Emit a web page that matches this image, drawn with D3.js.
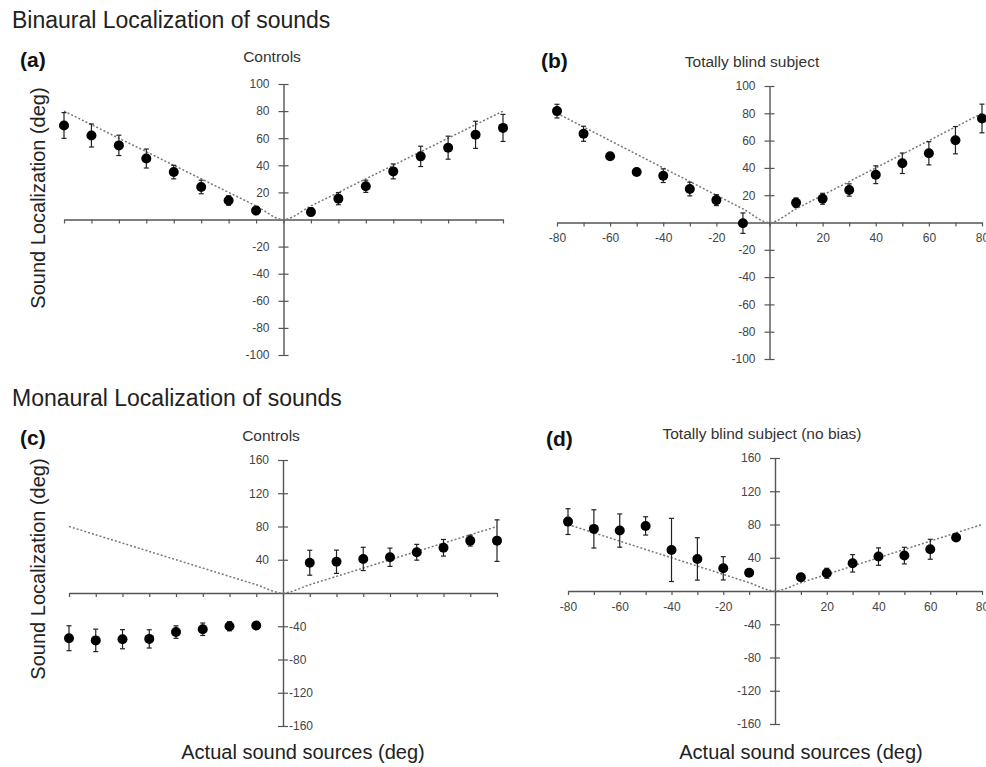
<!DOCTYPE html>
<html>
<head>
<meta charset="utf-8">
<script src="https://cdn.jsdelivr.net/npm/d3@7"></script>
<style>
  body { margin: 0; background: #fff; }
  svg { display: block; font-family: "Liberation Sans", Arial, sans-serif; }
  .tick text { fill: #444; font-size: 12px; }
  .axis path, .axis line { stroke: #555; }
</style>
</head>
<body>
<div id="chart"></div>
<script>
// Data
const anglesFull = [-80, -70, -60, -50, -40, -30, -20, -10, 10, 20, 30, 40, 50, 60, 70, 80];
const anglesMonBlind = [-80, -70, -60, -50, -40, -30, -20, -10, 10, 20, 30, 40, 50, 60, 70];

const binCtrlMean = [69.4, 62, 54.7, 45, 35, 24, 14, 6.6, 5.6, 15.4, 24.5, 35.5, 46.6, 53, 62.5, 67.6];
const binCtrlErr = [9.5, 8.5, 7.5, 7, 5, 5, 3.5, 3, 3, 4.5, 4.5, 5.5, 7.5, 8.5, 10, 10];

const binBlindMean = [81.6, 65, 48.5, 37, 34.3, 24.5, 16.4, -0.5, 14.5, 17.4, 23.8, 35, 43.4, 50.7, 60.3, 76.2];
const binBlindErr = [5, 5.5, 1.5, 1.5, 5, 5, 4, 7.5, 3.5, 4, 4.5, 6.5, 7.5, 8.5, 10, 10.5];

const monCtrlMean = [-54.4, -57, -55.6, -55.2, -47, -43.6, -40, -39, 36.4, 37.6, 41, 43, 49, 54.4, 63, 63];
const monCtrlErr = [15, 13.5, 11.5, 11, 7.5, 7.5, 5.5, 4.5, 15, 14, 14, 11, 9.5, 10, 6.5, 25];

const monBlindMean = [83.5, 74.7, 72.7, 78.3, 49.4, 38.6, 27.3, 22, 16.5, 21.3, 33.3, 41.4, 42.6, 50.2, 64.3];
const monBlindErr = [15.5, 23, 20, 11, 38, 25.5, 14, 4, 4, 6, 10.5, 10.5, 10, 12, 1.5];

// ideal response (perfect localization)
const refX = [-80, -70, -60, -50, -40, -30, -20, -10, 0, 10, 20, 30, 40, 50, 60, 70, 80];
const refY = [80, 70, 60, 50, 40, 30, 20, 10, 0, 10, 20, 30, 40, 50, 60, 70, 80];

const xTicks = [-80, -70, -60, -50, -40, -30, -20, -10, 0, 10, 20, 30, 40, 50, 60, 70, 80];
const xTickLabels = [-80, -60, -40, -20, 20, 40, 60, 80];
const yTicksBin = [100, 80, 60, 40, 20, -20, -40, -60, -80, -100];
const yTicksMon = [160, 120, 80, 40, -40, -80, -120, -160];

const width = 986, height = 767;

const panels = [
  { tag: "(a)", title: "Controls", x: anglesFull, mean: binCtrlMean, err: binCtrlErr,
    xr: [64, 503], yr: [355, 84], yd: [-100, 100], yTicks: yTicksBin,
    xLabels: false, negRight: false, tagX: 20, tagY: 67, titleX: 272, titleY: 62 },
  { tag: "(b)", title: "Totally blind subject", x: anglesFull, mean: binBlindMean, err: binBlindErr,
    xr: [557, 982], yr: [359, 86], yd: [-100, 100], yTicks: yTicksBin,
    xLabels: true, negRight: false, tagX: 541, tagY: 68, titleX: 752, titleY: 67 },
  { tag: "(c)", title: "Controls", x: anglesFull, mean: monCtrlMean, err: monCtrlErr,
    xr: [69, 497], yr: [726, 460], yd: [-160, 160], yTicks: yTicksMon,
    xLabels: false, negRight: true, tagX: 20, tagY: 445, titleX: 271, titleY: 441 },
  { tag: "(d)", title: "Totally blind subject (no bias)", x: anglesMonBlind, mean: monBlindMean, err: monBlindErr,
    xr: [568, 982], yr: [724, 458], yd: [-160, 160], yTicks: yTicksMon,
    xLabels: true, negRight: false, tagX: 546, tagY: 446, titleX: 762, titleY: 439 }
];

const svg = d3.select("#chart").append("svg")
  .attr("width", width)
  .attr("height", height);

// section headings
svg.append("text").attr("x", 12).attr("y", 28)
  .style("font-size", "23px").style("fill", "#222")
  .text("Binaural Localization of sounds");
svg.append("text").attr("x", 12).attr("y", 406)
  .style("font-size", "23px").style("fill", "#222")
  .text("Monaural Localization of sounds");

// y axis titles
[{ x: 45, y: 198 }, { x: 45, y: 569 }].forEach(p => {
  svg.append("text")
    .attr("transform", `translate(${p.x},${p.y}) rotate(-90)`)
    .attr("text-anchor", "middle")
    .style("font-size", "20px").style("fill", "#222")
    .text("Sound Localization (deg)");
});

// x axis titles
[{ x: 303, y: 759 }, { x: 801, y: 759 }].forEach(p => {
  svg.append("text")
    .attr("x", p.x).attr("y", p.y)
    .attr("text-anchor", "middle")
    .style("font-size", "20px").style("fill", "#222")
    .text("Actual sound sources (deg)");
});

panels.forEach(drawPanel);

function drawPanel(p) {
  const x = d3.scaleLinear().domain([-80, 80]).range(p.xr);
  const y = d3.scaleLinear().domain(p.yd).range(p.yr);
  const g = svg.append("g");

  // panel tag and title
  g.append("text").attr("x", p.tagX).attr("y", p.tagY)
    .style("font-size", "21px").style("font-weight", "bold").style("fill", "#111")
    .text(p.tag);
  g.append("text").attr("x", p.titleX).attr("y", p.titleY)
    .attr("text-anchor", "middle")
    .style("font-size", "15.5px").style("fill", "#333")
    .text(p.title);

  // x axis through y = 0
  const xAxis = g.append("g")
    .attr("class", "axis")
    .attr("transform", `translate(0,${y(0)})`)
    .call(d3.axisBottom(x)
      .tickValues(xTicks)
      .tickSize(4)
      .tickSizeOuter(0)
      .tickPadding(7)
      .tickFormat(d => (p.xLabels && xTickLabels.includes(d)) ? String(d) : ""));
  xAxis.select(".domain").attr("stroke-width", 1.4);
  xAxis.selectAll(".tick line").attr("stroke-width", 1.2);

  // y axis through x = 0
  const yAxis = g.append("g")
    .attr("class", "axis")
    .attr("transform", `translate(${x(0)},0)`)
    .call(d3.axisLeft(y)
      .tickValues(p.yTicks)
      .tickSize(5)
      .tickSizeOuter(0)
      .tickPadding(9)
      .tickFormat(d => String(d)));
  yAxis.select(".domain").attr("stroke-width", 1.4);
  yAxis.selectAll(".tick line").attr("x1", 5).attr("stroke-width", 1.2);
  if (p.negRight) {
    yAxis.selectAll(".tick text")
      .filter(d => d < 0)
      .attr("x", 6)
      .attr("text-anchor", "start");
  }

  // ideal localization line
  const line = d3.line()
    .x((d, i) => x(refX[i]))
    .y(d => y(d))
    .curve(d3.curveMonotoneX);
  g.append("path")
    .datum(refY)
    .attr("d", line)
    .attr("fill", "none")
    .attr("stroke", "#777")
    .attr("stroke-width", 1.5)
    .attr("stroke-dasharray", "2,2");

  const pts = p.x.map((a, i) => ({ a: a, m: p.mean[i], e: p.err[i] }));

  // error bars
  const eb = g.append("g").selectAll("g")
    .data(pts)
    .join("g")
    .attr("stroke", "#222")
    .attr("stroke-width", 1.2);
  eb.append("line")
    .attr("x1", d => x(d.a)).attr("x2", d => x(d.a))
    .attr("y1", d => y(d.m - d.e)).attr("y2", d => y(d.m + d.e));
  eb.append("line")
    .attr("x1", d => x(d.a) - 2.5).attr("x2", d => x(d.a) + 2.5)
    .attr("y1", d => y(d.m + d.e)).attr("y2", d => y(d.m + d.e));
  eb.append("line")
    .attr("x1", d => x(d.a) - 2.5).attr("x2", d => x(d.a) + 2.5)
    .attr("y1", d => y(d.m - d.e)).attr("y2", d => y(d.m - d.e));

  // means
  g.append("g").selectAll("circle")
    .data(pts)
    .join("circle")
    .attr("cx", d => x(d.a))
    .attr("cy", d => y(d.m))
    .attr("r", 5)
    .attr("fill", "#000");
}
</script>
</body>
</html>
